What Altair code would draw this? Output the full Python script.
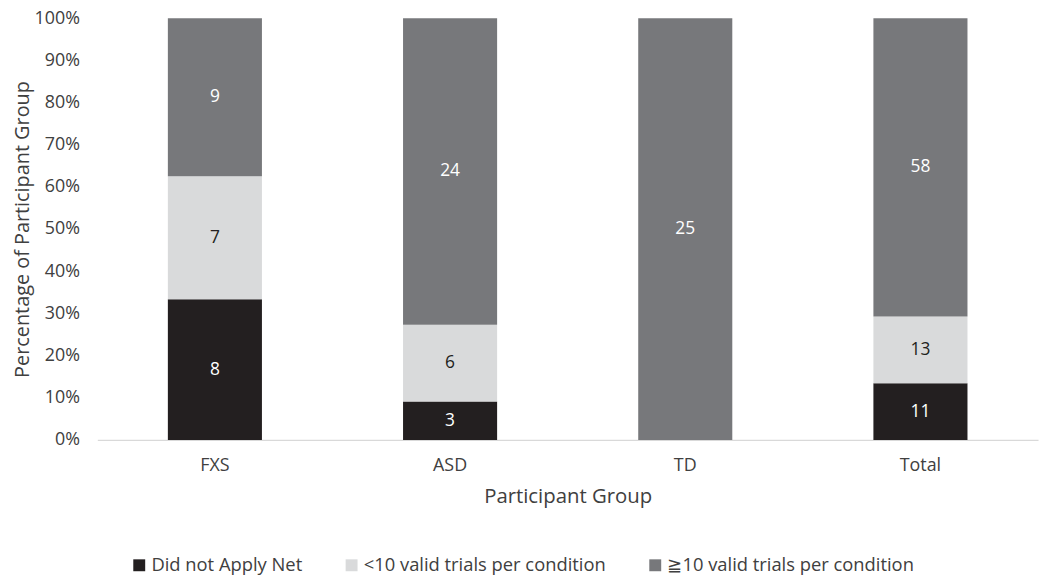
import altair as alt
import pandas as pd

groups = ["FXS", "ASD", "TD", "Total"]
categories = ["Did not Apply Net", "<10 valid trials per condition", "≧10 valid trials per condition"]
did_not_apply = [8, 3, 0, 11]
lt10 = [7, 6, 0, 13]
ge10 = [9, 24, 25, 58]
colors = ["#231f20", "#d9dadb", "#77787b"]
text_colors = ["#ffffff", "#231f20", "#ffffff"]

rows = []
for i, g in enumerate(groups):
    for k, (cat, vals) in enumerate(zip(categories, [did_not_apply, lt10, ge10])):
        rows.append({"group": g, "cat": cat, "order": k, "count": vals[i]})
df = pd.DataFrame(rows)

FONT = "Open Sans"

base = alt.Chart(df).transform_stack(
    stack="count", groupby=["group"], as_=["y0", "y1"], offset="normalize",
    sort=[alt.SortField("order", order="ascending")]
).transform_calculate(mid="(datum.y0 + datum.y1) / 2")

x_enc = alt.X("group:N", sort=groups, title="Participant Group",
              scale=alt.Scale(paddingInner=0.6, paddingOuter=0.3),
              axis=alt.Axis(labelAngle=0, ticks=False, domainColor="#d9d9d9", domainWidth=1.5,
                            labelFontSize=18, labelColor="#404040", labelPadding=17, labelFont=FONT,
                            titleFontSize=20.5, titleFontWeight="normal", titleColor="#404040",
                            titlePadding=12, titleFont=FONT))

bars = base.mark_bar().encode(
    x=x_enc,
    y=alt.Y("y0:Q", title="Percentage of Participant Group",
            scale=alt.Scale(domain=[0, 1], nice=False),
            axis=alt.Axis(format=".0%", values=[i / 10 for i in range(11)], domain=False, ticks=False,
                          grid=False, labelFontSize=18, labelColor="#404040", labelPadding=18,
                          labelFont=FONT, titleFontSize=20, titleFontWeight="normal",
                          titleColor="#404040", titleFont=FONT, titlePadding=2)),
    y2="y1:Q",
    color=alt.Color("cat:N", sort=categories, title=None,
                    scale=alt.Scale(domain=categories, range=colors),
                    legend=alt.Legend(orient="none", direction="horizontal", legendX=33, legendY=542,
                                      symbolType="square", symbolSize=144, symbolStrokeWidth=0,
                                      labelOffset=3, labelFontSize=18.5, labelColor="#404040",
                                      labelFont=FONT, columnPadding=40, labelLimit=400)),
)

labels = base.transform_filter("datum.count > 0").mark_text(fontSize=17.5, font=FONT).encode(
    x=alt.X("group:N", sort=groups),
    y=alt.Y("mid:Q"),
    text=alt.Text("count:Q"),
    color=alt.Color("cat:N", sort=categories, scale=alt.Scale(domain=categories, range=text_colors),
                    legend=None),
)

chart = alt.layer(bars, labels).resolve_scale(color="independent").properties(
    width=948, height=425,
    padding={"left": 90, "top": 8, "right": 4, "bottom": 140},
    autosize=alt.AutoSizeParams(type="none"),
).configure_view(stroke=None).configure_axis(grid=False)

chart.save("out.html", embed_options={"renderer": "svg", "actions": False})
